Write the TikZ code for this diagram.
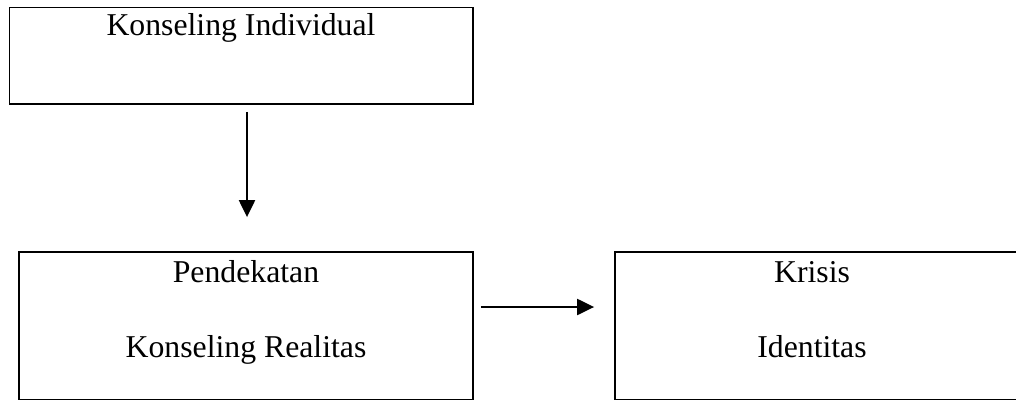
\documentclass[tikz,border=0pt]{standalone}
\usepackage{fontspec}
\setmainfont{Liberation Serif}
\usetikzlibrary{arrows.meta}
\begin{document}
\begin{tikzpicture}[x=1pt,y=-1pt,
  boxnode/.style={draw,line width=1.8pt,inner sep=0pt,rectangle},
  label/.style={anchor=base,inner sep=0pt,font=\fontsize{31.75}{38}\selectfont},
  arr/.style={line width=2.2pt,-{Triangle[length=17pt,width=16pt]}}]
\useasboundingbox (0,0) rectangle (1016,401);
\node[boxnode,minimum width=463.5pt,minimum height=96.5pt] (b1) at (241.25,55.75) {};
\node[boxnode,minimum width=454pt,minimum height=147.5pt] (b2) at (246,325.75) {};
\node[boxnode,minimum width=403pt,minimum height=147.5pt] (b3) at (816.5,325.75) {};
\node[label] (t1) at (241,36) {Konseling Individual};
\node[label] (t2) at (246,282) {Pendekatan};
\node[label] (t3) at (246,357) {Konseling Realitas};
\node[label] (t4) at (812,282) {Krisis};
\node[label] (t5) at (812,357) {Identitas};
\coordinate (ax) at (247,0);
\coordinate (ay) at (0,307);
\draw[arr,shorten <=7pt,shorten >=34pt] (b1.south -| ax) -- (b2.north -| ax);
\draw[arr,shorten <=7pt,shorten >=20pt] (b2.east |- ay) -- (b3.west |- ay);
\end{tikzpicture}
\end{document}
